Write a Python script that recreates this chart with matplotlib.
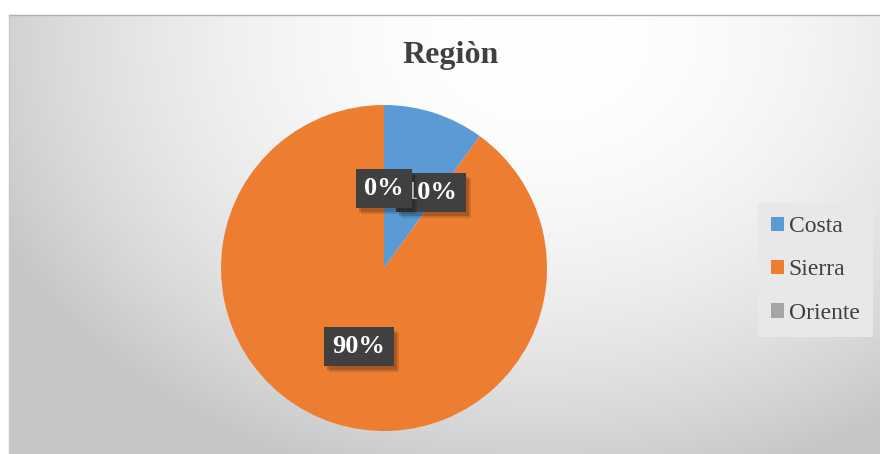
import numpy as np
import matplotlib
matplotlib.use("Agg")
import matplotlib.pyplot as plt

# ---- data ----
categories = ["Costa", "Sierra", "Oriente"]
values = [10, 90, 0]
colors = ["#5B9BD5", "#ED7D31", "#A5A5A5"]
title = "Regiòn"

W, H = 880, 454
fig = plt.figure(figsize=(W / 100, H / 100), dpi=100)
fig.patch.set_facecolor("white")

# background gradient of chart area
bg = fig.add_axes([0, 0, 1, 1], zorder=0)
yy, xx = np.mgrid[0:H, 0:W]
d = np.sqrt((xx - 540.0) ** 2 + ((yy - 40.0) * 1.3) ** 2)
val = 255 - 57 * np.minimum(1.0, (d / 600.0) ** 2)
img = np.dstack([val, val, val]) / 255.0
img[:15, :, :] = 1.0
img[:, :9, :] = 1.0
bg.imshow(img, extent=[0, W, H, 0], aspect="auto", interpolation="bilinear")
bg.plot([9, W], [15, 15], color="#b0b0b0", lw=1)
bg.plot([9, 9], [15, H], color="#c8c8c8", lw=1)
bg.set_xlim(0, W)
bg.set_ylim(H, 0)
bg.axis("off")

serif = ["Liberation Serif", "DejaVu Serif"]

fig.text(451 / W, 1 - 55 / H, title, ha="center", va="center",
         fontsize=23, fontweight="bold", color="#404040", family=serif)

# pie axes
cx, cy, r = 384, 268, 163
ax = fig.add_axes([(cx - r) / W, (H - cy - r) / H, 2 * r / W, 2 * r / H], zorder=1)
wedges, texts, autotexts = ax.pie(
    values, colors=colors, startangle=90, counterclock=False,
    autopct=lambda p: f"{p:.0f}%", pctdistance=0.5, radius=1.0,
    wedgeprops=dict(linewidth=0))
ax.set_xlim(-1, 1)
ax.set_ylim(-1, 1)
ax.set_aspect("equal")
ax.axis("off")

extra_offsets = {0: (22, -2), 1: (0, -1), 2: (0, -2)}
for i, t in enumerate(autotexts):
    x, y = t.get_position()
    s = t.get_text()
    t.remove()
    ox, oy = extra_offsets[i]
    # soft shadow (two layers)
    for (sx, sy, a) in [(5, -6, 0.12), (3, -4, 0.18)]:
        ax.annotate(s, (x, y), xytext=(ox + sx, oy + sy), textcoords="offset pixels",
                    ha="center", va="center", fontsize=19, fontweight="bold",
                    family=serif, color=(0, 0, 0, 0),
                    bbox=dict(boxstyle="square,pad=0.32", fc=(0, 0, 0, a), ec="none"),
                    zorder=5 + 2 * i)
    ax.annotate(s, (x, y), xytext=(ox, oy), textcoords="offset pixels",
                ha="center", va="center", fontsize=19, fontweight="bold",
                family=serif, color="white",
                bbox=dict(boxstyle="square,pad=0.32", fc="#404040", ec="none"),
                zorder=6 + 2 * i)

# legend
leg = fig.legend(
    wedges, categories, loc="upper left",
    bbox_to_anchor=(758 / W, 1 - 203 / H),
    prop=dict(family=serif, size=17), frameon=True, fancybox=False,
    facecolor="#e8e8e8", edgecolor="none", framealpha=1,
    handlelength=0.55, handleheight=0.55, handletextpad=0.2,
    labelspacing=0.95, borderpad=0.55, borderaxespad=0)
for txt in leg.get_texts():
    txt.set_color("#404040")

fig.savefig("out.png", dpi=100)
